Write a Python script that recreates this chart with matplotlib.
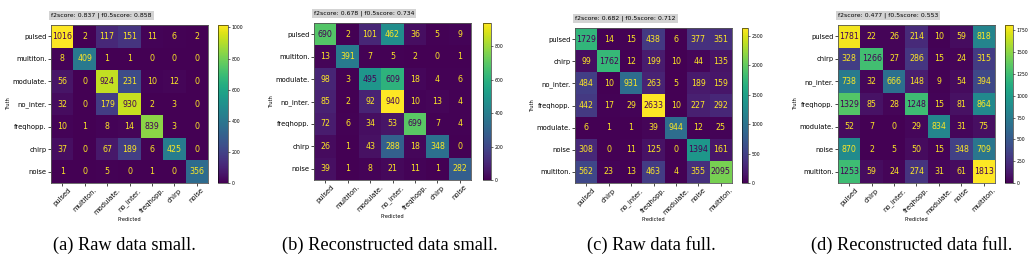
import numpy as np
import matplotlib
matplotlib.use('Agg')
import matplotlib.pyplot as plt

# class orders used in the two experiments
labels_small = ['pulsed', 'multiton.', 'modulate.', 'no_inter.', 'freqhopp.', 'chirp', 'noise']
labels_full = ['pulsed', 'chirp', 'no_inter.', 'freqhopp.', 'modulate.', 'noise', 'multiton.']

cm_a = [[1016, 2, 117, 151, 11, 6, 2],
        [8, 409, 1, 1, 0, 0, 0],
        [56, 0, 924, 231, 10, 12, 0],
        [32, 0, 179, 930, 2, 3, 0],
        [10, 1, 8, 14, 839, 3, 0],
        [37, 0, 67, 189, 6, 425, 0],
        [1, 0, 5, 0, 1, 0, 356]]
cm_b = [[690, 2, 101, 462, 36, 5, 9],
        [13, 391, 7, 5, 2, 0, 1],
        [98, 3, 495, 609, 18, 4, 6],
        [85, 2, 92, 940, 10, 13, 4],
        [72, 6, 34, 53, 699, 7, 4],
        [26, 1, 43, 288, 18, 348, 0],
        [39, 1, 8, 21, 11, 1, 282]]
cm_c = [[1729, 14, 15, 438, 6, 377, 351],
        [99, 1762, 12, 199, 10, 44, 135],
        [484, 10, 931, 263, 5, 189, 159],
        [442, 17, 29, 2633, 10, 227, 292],
        [6, 1, 1, 39, 944, 12, 25],
        [308, 0, 11, 125, 0, 1394, 161],
        [562, 23, 13, 463, 4, 355, 2095]]
cm_d = [[1781, 22, 26, 214, 10, 59, 818],
        [328, 1266, 27, 286, 15, 24, 315],
        [738, 32, 666, 148, 9, 54, 394],
        [1329, 85, 28, 1248, 15, 81, 864],
        [52, 7, 0, 29, 834, 31, 75],
        [870, 2, 5, 50, 15, 348, 709],
        [1253, 59, 24, 274, 31, 61, 1813]]

f2 = [0.837, 0.678, 0.682, 0.477]
f05 = [0.858, 0.734, 0.712, 0.553]
cbar_steps = [200, 200, 500, 250]
captions = ['(a) Raw data small.', '(b) Reconstructed data small.',
            '(c) Raw data full.', '(d) Reconstructed data full.']

W, H = 1035, 259
fig = plt.figure(figsize=(W / 100, H / 100), dpi=100)

def px(x0, y0, x1, y1):
    return [x0 / W, 1 - y1 / H, (x1 - x0) / W, (y1 - y0) / H]

# pixel boxes: matrix, colorbar
boxes = [((51, 25, 208, 183), (218, 25, 228, 183)),
         ((314, 23, 471, 180), (483, 23, 491, 180)),
         ((575, 28, 732, 183), (742, 28, 748, 183)),
         ((838, 25, 995, 183), (1005, 25, 1013, 183))]
cap_x = [124.5, 389.5, 651, 911.5]

cmap = plt.get_cmap('viridis')
mats = [cm_a, cm_b, cm_c, cm_d]
labs = [labels_small, labels_small, labels_full, labels_full]

for i in range(4):
    cm = np.array(mats[i])
    ax = fig.add_axes(px(*boxes[i][0]))
    cax = fig.add_axes(px(*boxes[i][1]))
    im = ax.imshow(cm, cmap=cmap, aspect='auto', interpolation='nearest')
    thresh = (cm.max() + cm.min()) / 2.0
    for r in range(cm.shape[0]):
        for c in range(cm.shape[1]):
            col = cmap(1.0) if cm[r, c] < thresh else cmap(0.0)
            ax.text(c, r, str(cm[r, c]), ha='center', va='center', color=col, fontsize=5.7)
    n = len(labs[i])
    ax.set_xticks(range(n))
    ax.set_yticks(range(n))
    ax.set_xticklabels(labs[i], rotation=45, fontsize=4.9)
    ax.set_yticklabels(labs[i], fontsize=4.9)
    ax.tick_params(length=2, width=0.5, pad=1)
    ax.set_xlabel('Predicted', fontsize=3.6, labelpad=1)
    ax.set_ylabel('Truth', fontsize=3.6, labelpad=1)
    for s in ax.spines.values():
        s.set_linewidth(0.6)
        s.set_color('#555555')
    ax.set_title('f2score: %.3f | f0.5score: %.3f' % (f2[i], f05[i]), loc='left', fontsize=4.4,
                 pad=6, bbox=dict(facecolor='lightgray', edgecolor='none', pad=1.5))
    cb = fig.colorbar(im, cax=cax)
    cb.set_ticks(np.arange(0, cm.max() + 1, cbar_steps[i]))
    cb.ax.tick_params(labelsize=3.3, length=1.5, width=0.4, pad=1)
    cb.outline.set_linewidth(0.4)
    fig.text(cap_x[i] / W, 1 - 245 / H, captions[i], ha='center', va='center',
             family='Liberation Serif', fontsize=13.2)

fig.savefig('out.png', dpi=100)
